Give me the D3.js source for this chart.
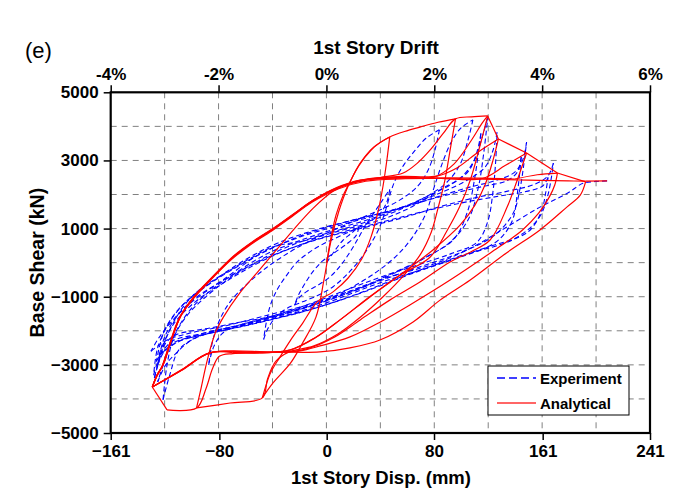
<!DOCTYPE html>
<html>
<head>
<meta charset="utf-8">
<script src="https://cdn.jsdelivr.net/npm/d3@7"></script>
<style>
  html, body { margin: 0; padding: 0; background: #fff; }
  svg { display: block; font-family: "Liberation Sans", Arial, Helvetica, sans-serif; }
</style>
</head>
<body>
<svg id="chart" width="681" height="493"></svg>
<script>
// Axis ticks
const dispTicks = [-161, -80, 0, 80, 161, 241];
const driftTicks = [-4, -2, 0, 2, 4, 6];
const shearTicks = [5000, 3000, 1000, -1000, -3000, -5000];
const driftGrid = [-3, -2, -1, 0, 1, 2, 3, 4, 5];
const shearGrid = [4000, 3000, 2000, 1000, 0, -1000, -2000, -3000, -4000];

// Analytical response: [1st story displacement (mm), base shear (kN)]
const analytical = [
  [0,0],[3,700],[7,1400],[12,1950],[17,2340],[25,2920],[35,3390],[47,3690],
  [45,3050],[42,2250],[38,1450],[33,750],[26,100],[16,-450],[5,-850],[-7,-1150],[-18,-1780],[-27,-2280],[-35,-2780],[-42,-3250],[-48,-3970],
  [-40,-3530],[-27,-2950],[-18,-2360],[-8,-1600],[-2,-500],[3,600],[9,1500],[16,2250],[24,2850],[33,3300],[40,3530],[47,3690],[58,3850],[70,3985],[83,4120],[96,4220],
  [92,3300],[88,2400],[83,1600],[78,900],[70,250],[58,-350],[42,-1000],[25,-1600],[8,-2100],[-10,-2450],[-28,-2620],[-38,-2900],[-44,-3400],[-48,-3970],[-72,-4120],[-97,-4265],
  [-94,-3750],[-89,-2860],[-83,-2060],[-77,-1600],[-65,-900],[-52,-300],[-38,350],[-24,1000],[-10,1600],[5,2100],[20,2380],[40,2500],[57,2630],[67,2900],[77,3300],[87,3800],[96,4220],[108,4280],[120,4306],
  [114,3390],[107,2420],[99,1630],[90,960],[77,160],[55,-360],[32,-1000],[10,-1680],[-9,-2210],[-27,-2560],[-50,-2650],[-70,-2670],[-80,-2750],[-85,-3100],[-90,-3700],[-97,-4265],[-119,-4320],[-130,-3650],
  [-126.5,-3300],[-122.8,-3060],[-116.8,-2360],[-109.4,-1600],[-99.7,-1050],[-87,-510],[-70,150],[-55,600],[-40,980],[-25,1400],[-10,1820],[10,2220],[30,2430],[55,2500],[80,2510],[95,2900],[108,3600],[116,4100],[120,4306],[128,3630],
  [124,3010],[118,2280],[110.5,1690],[99.4,1100],[79.2,373],[54.6,-360],[32.3,-1007],[9.9,-1680],[-8.7,-2210],[-27,-2560],[-50,-2650],[-70,-2640],[-87,-2650],[-108,-3150],[-130,-3650],
  [-125.8,-3250],[-121.8,-2990],[-115.8,-2290],[-108.6,-1540],[-98.8,-990],[-86,-450],[-69,210],[-54,650],[-39,1030],[-24,1450],[-9,1860],[11,2260],[31,2460],[56,2530],[82,2540],[97,2780],[113,3250],[128,3630],[149,3220],
  [142,2420],[134.5,1630],[121.8,665],[108,330],[92,20],[69.5,-570],[47,-1100],[25,-1680],[6,-2180],[-12.4,-2500],[-27,-2620],[-55,-2625],[-87,-2640],[-108,-3150],[-130,-3650],
  [-126.6,-3340],[-123.4,-3110],[-117.4,-2420],[-110.4,-1660],[-100.4,-1110],[-88,-570],[-71,90],[-56,550],[-41,930],[-26,1350],[-11,1770],[9,2170],[29,2390],[55,2460],[85,2470],[116,2470],[133,2850],[149,3220],[172,2630],
  [170,2280],[166,1930],[158,1450],[146,960],[122,285],[92,-510],[62,-1240],[40,-1740],[17.4,-2180],[-5,-2445],[-20,-2590],[-35,-2620],[-60,-2630],[-87,-2645],[-108,-3140],[-130,-3650],
  [-126.3,-3290],[-122.5,-3040],[-116.5,-2340],[-109,-1580],[-99.4,-1030],[-86.6,-490],[-69.5,170],[-54.5,620],[-39.5,1000],[-24.5,1420],[-9.5,1840],[10.5,2235],[30.5,2440],[56,2495],[85,2490],[116,2480],[140,2450],[157,2580],[172,2630],[193,2370],
  [189,1980],[179,1630],[159,960],[134,285],[107,-510],[84.5,-1100],[64.4,-1740],[39.7,-2270],[17.4,-2500],[-5,-2620],[-40,-2625],[-87,-2650],[-108,-3160],[-130,-3650],
  [-126,-3270],[-122.2,-3020],[-116.2,-2320],[-108.8,-1570],[-99.1,-1020],[-86.3,-480],[-69.3,180],[-54.3,630],[-39.3,1010],[-24.3,1430],[-9.3,1850],[10.7,2240],[30.7,2445],[56,2480],[85,2470],[116,2450],[150,2420],[180,2400],[193,2390],[209,2400]
];

// Experimental response: [1st story displacement (mm), base shear (kN)]
const experiment = [
  [0,0],[6,350],[12,650],[18,850],[24,1050],
  [22,800],[15,550],[6,300],[-3,50],[-10,-250],[-16,-600],[-21,-950],[-24,-1250],
  [-21,-1050],[-15,-850],[-6,-650],[3,-400],[11,-50],[18,350],[24,750],[29,1100],[35,1450],[41,1800],[47,2150],
  [45,1800],[40,1450],[32,1200],[22,1000],[10,780],[-2,560],[-12,330],[-22,20],[-30,-380],[-37,-800],[-42,-1250],[-45,-1750],[-47,-2250],
  [-44,-1950],[-38,-1600],[-30,-1350],[-18,-1150],[-6,-950],[5,-700],[15,-350],[24,50],[32,500],[39,1000],[44,1550],[48,2100],[52,2500],[58,2900],[66,3300],[74,3650],[84,3900],
  [81,3350],[76,2750],[68,2250],[55,1850],[40,1550],[22,1250],[5,950],[-12,650],[-28,300],[-45,-150],[-60,-650],[-72,-1150],[-80,-1700],[-85,-2300],[-88,-3000],
  [-84,-2450],[-77,-2050],[-64,-1820],[-48,-1650],[-30,-1450],[-12,-1250],[5,-1000],[22,-650],[38,-250],[52,200],[64,750],[74,1450],[80,2200],[86,2900],[93,3550],[100,3950],[109,4190],
  [105,3550],[99,2850],[88,2300],[70,1850],[48,1450],[22,1100],[-5,800],[-30,450],[-52,30],[-72,-450],[-90,-1000],[-104,-1550],[-114,-2200],[-119,-3000],[-122,-4030],
  [-117,-3300],[-110,-2550],[-97,-2200],[-78,-1980],[-55,-1740],[-28,-1460],[-3,-1150],[25,-760],[52,-280],[75,180],[95,700],[105,1500],[110,2400],[113,3200],[115,3800],
  [112,3250],[106,2700],[95,2350],[78,2000],[55,1600],[30,1250],[3,950],[-22,620],[-45,250],[-66,-250],[-86,-800],[-101,-1350],[-112,-2000],[-120,-2800],[-126,-3500],
  [-120,-3000],[-112,-2650],[-100,-2250],[-82,-2000],[-58,-1760],[-32,-1500],[-6,-1200],[22,-800],[48,-330],[72,120],[92,600],[106,1300],[113,2200],[117,3200],[120,4240],
  [116,3700],[110,3000],[100,2500],[85,2150],[64,1650],[40,1250],[12,960],[-15,660],[-40,460],[-58,100],[-72,-220],[-95,-800],[-107,-1300],[-117,-1980],[-124,-2710],[-128.5,-3390],
  [-125,-2900],[-121,-2420],[-113,-2130],[-100,-2000],[-87,-1920],[-65,-1750],[-44,-1600],[-25,-1380],[-5,-1100],[20,-720],[45,-360],[70,-40],[94,280],[112,600],[120,1200],[124,2100],[126,3000],[127,3830],
  [124,3300],[118,2800],[106,2450],[88,2100],[65,1750],[38,1400],[10,1100],[-20,750],[-50,250],[-77,-500],[-100,-1100],[-115,-1700],[-125,-2200],[-131,-2600],
  [-126,-2450],[-118,-2250],[-100,-2050],[-75,-1850],[-45,-1550],[-15,-1250],[20,-800],[60,-250],[100,300],[125,800],[139,1450],[144,2150],[147,2900],[149,3540],
  [146,3000],[140,2650],[125,2400],[105,2200],[80,1900],[55,1600],[25,1300],[-5,1000],[-35,600],[-60,100],[-85,-550],[-105,-1150],[-118,-1800],[-126,-2500],[-129,-3300],
  [-124,-2750],[-114,-2350],[-96,-2150],[-72,-1950],[-44,-1700],[-14,-1400],[20,-960],[58,-380],[96,150],[126,600],[138,1200],[142,2000],[145,3100],
  [142,2650],[134,2400],[118,2250],[96,2050],[72,1800],[45,1500],[15,1200],[-15,850],[-42,400],[-68,-150],[-92,-750],[-110,-1350],[-121,-2000],[-127,-2900],
  [-124,-2700],[-115,-2300],[-95,-2100],[-70,-1900],[-40,-1650],[-10,-1350],[25,-900],[65,-300],[105,250],[140,700],[158,1300],[165,2000],[169,2920],
  [165,2550],[155,2300],[135,2100],[110,1900],[85,1650],[55,1300],[25,1000],[-5,700],[-35,300],[-65,-250],[-90,-850],[-110,-1500],[-121,-2200],[-126,-3000],
  [-120,-2550],[-108,-2280],[-88,-2080],[-58,-1820],[-28,-1520],[2,-1150],[42,-560],[86,-20],[120,450],[150,900],[160,1500],[163,2000],[165,2500],
  [161,2250],[150,2100],[128,1950],[100,1750],[72,1500],[42,1200],[12,900],[-18,550],[-48,50],[-75,-550],[-98,-1150],[-115,-1850],[-125,-2700],
  [-121,-2600],[-110,-2300],[-90,-2050],[-60,-1800],[-30,-1500],[0,-1100],[40,-500],[84,15],[109,460],[134,1040],[159,1630],[180,2050],[191,2330],[200,2380],[210,2400]
];

const legendItems = ["Experiment", "Analytical"];

// Layout
const plot = { left: 110.7, right: 650, top: 92.3, bottom: 433 };
const svg = d3.select("#chart");

const x = d3.scaleLinear().domain([-161, 241]).range([plot.left, plot.right]);
const xDrift = d3.scaleLinear().domain([-4, 6]).range([plot.left, plot.right]);
const y = d3.scaleLinear().domain([-5000, 5000]).range([plot.bottom, plot.top]);

// Grid
const grid = svg.append("g").attr("stroke", "#808080").attr("stroke-width", 1).attr("stroke-dasharray", "6,5");
grid.selectAll("line.v").data(driftGrid).join("line")
  .attr("x1", d => xDrift(d)).attr("x2", d => xDrift(d))
  .attr("y1", plot.top).attr("y2", plot.bottom);
grid.selectAll("line.h").data(shearGrid).join("line")
  .attr("x1", plot.left).attr("x2", plot.right)
  .attr("y1", d => y(d)).attr("y2", d => y(d));

// Break a load history into branches wherever displacement or force reverses,
// so each branch is smoothed on its own and peaks stay sharp.
function branches(points) {
  const out = [];
  let cur = [points[0]], sx = 0, sy = 0;
  for (let i = 1; i < points.length; i++) {
    const nx = Math.sign(points[i][0] - points[i - 1][0]);
    const ny = Math.sign(points[i][1] - points[i - 1][1]);
    if ((sx && nx && nx !== sx) || (sy && ny && ny !== sy)) {
      out.push(cur);
      cur = [points[i - 1]];
      sx = 0; sy = 0;
    }
    cur.push(points[i]);
    if (nx) sx = nx;
    if (ny) sy = ny;
  }
  out.push(cur);
  return out;
}

// Curves
svg.append("clipPath").attr("id", "clip").append("rect")
  .attr("x", plot.left).attr("y", plot.top)
  .attr("width", plot.right - plot.left).attr("height", plot.bottom - plot.top);

const line = d3.line().x(d => x(d[0])).y(d => y(d[1])).curve(d3.curveCatmullRom.alpha(0.5));
const curves = svg.append("g").attr("clip-path", "url(#clip)");

curves.append("g").selectAll("path").data(branches(experiment)).join("path")
  .attr("d", line).attr("fill", "none")
  .attr("stroke", "#0000ff").attr("stroke-width", 1.1)
  .attr("stroke-dasharray", "5,3");

curves.append("g").selectAll("path").data(branches(analytical)).join("path")
  .attr("d", line).attr("fill", "none")
  .attr("stroke", "#ff0000").attr("stroke-width", 1.2)
  .attr("stroke-linejoin", "round");

// Frame
svg.append("rect")
  .attr("x", plot.left).attr("y", plot.top)
  .attr("width", plot.right - plot.left).attr("height", plot.bottom - plot.top)
  .attr("fill", "none").attr("stroke", "#000").attr("stroke-width", 2.2);

// Axes
function styleAxis(g) {
  g.select(".domain").remove();
  g.selectAll(".tick line").attr("stroke", "#000").attr("stroke-width", 1.5);
  g.selectAll(".tick text").attr("fill", "#000")
    .style("font-size", "17px").style("font-weight", "bold")
    .style("font-family", '"Liberation Sans", Arial, sans-serif');
}

svg.append("g").attr("transform", `translate(${plot.left},0)`)
  .call(d3.axisLeft(y).tickValues(shearTicks).tickSize(7).tickPadding(5).tickFormat(d3.format("d")))
  .call(styleAxis);

svg.append("g").attr("transform", `translate(0,${plot.bottom})`)
  .call(d3.axisBottom(x).tickValues(dispTicks).tickSize(7).tickPadding(5).tickFormat(d3.format("d")))
  .call(styleAxis);

svg.append("g").attr("transform", `translate(0,${plot.top})`)
  .call(d3.axisTop(xDrift).tickValues(driftTicks).tickSize(7).tickPadding(5).tickFormat(d => d + "%"))
  .call(styleAxis);

// Titles
svg.append("text").attr("x", 25).attr("y", 58)
  .style("font-size", "22px").text("(e)");

svg.append("text").attr("x", 376).attr("y", 54)
  .attr("text-anchor", "middle").style("font-size", "19px").style("font-weight", "bold")
  .text("1st Story Drift");

svg.append("text").attr("x", 381).attr("y", 484)
  .attr("text-anchor", "middle").style("font-size", "18.5px").style("font-weight", "bold")
  .text("1st Story Disp. (mm)");

svg.append("text")
  .attr("transform", `translate(44,${(plot.top + plot.bottom) / 2}) rotate(-90)`)
  .attr("text-anchor", "middle").style("font-size", "19.5px").style("font-weight", "bold")
  .text("Base Shear (kN)");

// Legend
const legend = svg.append("g");
legend.append("rect").attr("x", 488).attr("y", 366).attr("width", 141).attr("height", 49)
  .attr("fill", "#fff").attr("stroke", "#000").attr("stroke-width", 1);
legend.append("line").attr("x1", 497).attr("x2", 536).attr("y1", 378).attr("y2", 378)
  .attr("stroke", "#0000ff").attr("stroke-width", 1.3).attr("stroke-dasharray", "8,4");
legend.append("line").attr("x1", 497).attr("x2", 536).attr("y1", 403).attr("y2", 403)
  .attr("stroke", "#ff3333").attr("stroke-width", 1.3);
legend.selectAll("text.item").data(legendItems).join("text")
  .attr("x", 540).attr("y", (d, i) => 383.5 + i * 25)
  .style("font-size", "15px").style("font-weight", "bold")
  .text(d => d);
</script>
</body>
</html>
